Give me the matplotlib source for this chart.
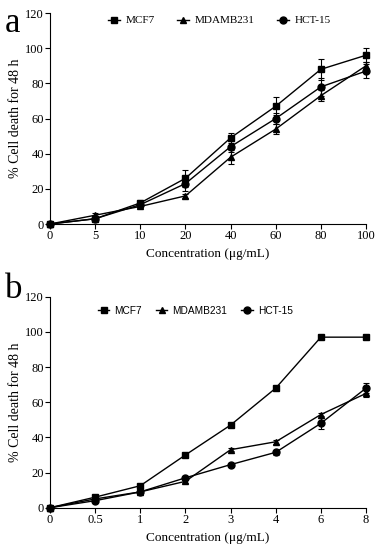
import numpy as np
import matplotlib.pyplot as plt
from matplotlib.lines import Line2D

plt.rcParams['font.family'] = ['Liberation Serif', 'DejaVu Serif']

# panel a
conc_a = ['0', '5', '10', '20', '40', '60', '80', '100']
mcf7_a = [0, 3, 12, 26, 49, 67, 88, 96]
mcf7_a_err = [0, 1, 1.5, 5, 3, 5, 6, 4]
mda_a = [0, 5, 10, 16, 38, 54, 73, 90]
mda_a_err = [0, 1, 1, 1, 4, 3, 3, 2]
hct_a = [0, 3, 11, 23, 44, 60, 78, 87]
hct_a_err = [0, 1, 1, 4, 3, 3, 5, 4]

# panel b
conc_b = ['0', '0.5', '1', '2', '3', '4', '6', '8']
mcf7_b = [0, 6, 12.5, 30, 47, 68, 97, 97]
mcf7_b_err = [0, 0.5, 0.5, 1, 1, 1, 1, 1]
mda_b = [0, 5, 9, 15, 33, 37.5, 53, 65]
mda_b_err = [0, 0.5, 0.5, 1, 1, 1, 1, 2]
hct_b = [0, 4, 9, 17, 24.5, 31.5, 48, 68]
hct_b_err = [0, 0.5, 0.5, 1, 1, 1.5, 3, 3]

names = ['MCF7', 'MDAMB231', 'HCT-15']
markers = ['s', '^', 'o']

fig = plt.figure(figsize=(3.8, 5.5), dpi=100)
ax_a = fig.add_axes([0.1316, 0.5927, 0.8316, 0.3836])
ax_b = fig.add_axes([0.1316, 0.0769, 0.8316, 0.3836])


def draw(ax, labels, series, errs, legend_font, legend_size, colsp, leg_x, leg_y):
    x = np.arange(len(labels))
    for vals, err, m in zip(series, errs, markers):
        ax.errorbar(x, vals, yerr=err, color='black', marker=m, markersize=5,
                    lw=1.0, capsize=2, elinewidth=0.8, capthick=0.8)
    ax.set_xlim(0, len(labels) - 1)
    ax.set_ylim(0, 120)
    ax.set_xticks(x)
    ax.set_xticklabels(labels)
    ax.set_yticks(np.arange(0, 121, 20))
    ax.spines['top'].set_visible(False)
    ax.spines['right'].set_visible(False)
    ax.tick_params(direction='out', length=3.5, width=0.8, labelsize=9, pad=1)
    ax.set_xlabel('Concentration (μg/mL)', fontsize=9.5, labelpad=4)
    ax.set_ylabel('% Cell death for 48 h', fontsize=10, labelpad=2)
    for m in ax.collections + ax.lines:
        m.set_clip_on(False)
    handles = [Line2D([], [], color='black', marker=m, markersize=5, lw=1.0) for m in markers]
    ax.legend(handles, names, loc='upper center', bbox_to_anchor=(leg_x, leg_y), ncol=3,
              frameon=False, prop={'family': legend_font, 'size': legend_size},
              handlelength=1.1, columnspacing=colsp, handletextpad=0.5)


draw(ax_a, conc_a, [mcf7_a, mda_a, hct_a], [mcf7_a_err, mda_a_err, hct_a_err],
     'Liberation Serif', 8, 2.0, 0.535, 1.035)
draw(ax_b, conc_b, [mcf7_b, mda_b, hct_b], [mcf7_b_err, mda_b_err, hct_b_err],
     'Liberation Sans', 7.3, 1.4, 0.46, 1.0)

fig.text(0.012, 0.988, 'a', fontsize=25, va='top')
fig.text(0.012, 0.503, 'b', fontsize=25, va='top')

fig.savefig('out.png', dpi=100)
